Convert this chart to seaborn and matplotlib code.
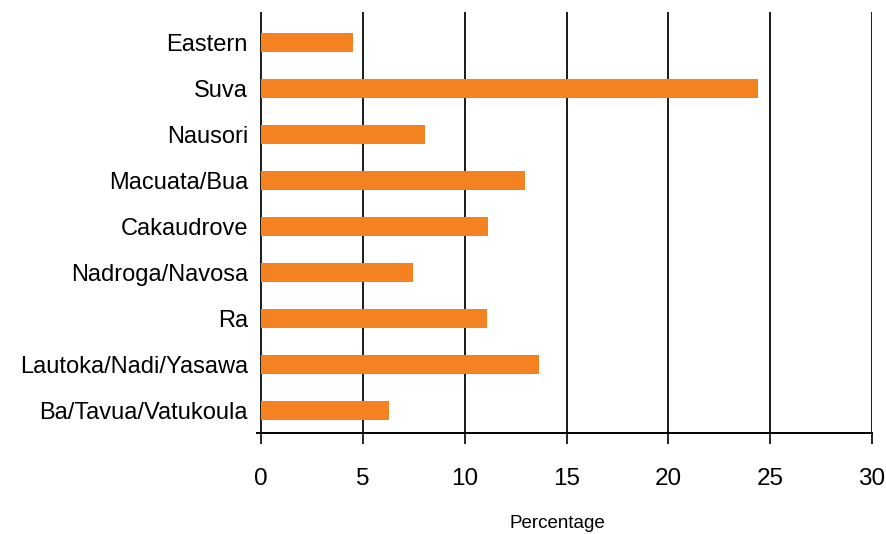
import matplotlib
matplotlib.use("Agg")
import matplotlib.pyplot as plt
import seaborn as sns
import pandas as pd

regions = ["Eastern", "Suva", "Nausori", "Macuata/Bua", "Cakaudrove",
           "Nadroga/Navosa", "Ra", "Lautoka/Nadi/Yasawa", "Ba/Tavua/Vatukoula"]
percentages = [4.5, 24.4, 8.05, 12.95, 11.15, 7.45, 11.1, 13.65, 6.3]
xticks = [0, 5, 10, 15, 20, 25, 30]
xlabel = "Percentage"

df = pd.DataFrame({"region": regions, "pct": percentages})

sns.set_theme(style="white")
plt.rcParams['font.family'] = ['Liberation Sans', 'DejaVu Sans']

fig = plt.figure(figsize=(8.86, 5.34), dpi=100)
ax = fig.add_axes([257/886, 1-433/534, (872-257)/886, (433-12)/534])

for x in xticks:
    ax.axvline(x, color='#1a1a1a', lw=1.4, zorder=0)

sns.barplot(data=df, x="pct", y="region", orient="h", color='#F58220',
            saturation=1, width=0.41, ax=ax, zorder=2, linewidth=0, edgecolor='none')

ax.set_xlim(-0.2, 30.0)
ax.set_ylim(8.49, -0.66)
ax.set_xticks(xticks)
ax.set_xticklabels([str(t) for t in xticks], fontsize=17.5)
ax.tick_params(axis='x', direction='out', length=8, width=1.2, color='#000', pad=17, bottom=True)
ax.tick_params(axis='y', length=0, pad=6.5, labelsize=17)
for lbl in ax.get_yticklabels():
    lbl.set_color('#000')
for lbl in ax.get_xticklabels():
    lbl.set_color('#000')

for s in ['top', 'right', 'left']:
    ax.spines[s].set_visible(False)
ax.spines['bottom'].set_color('#000')
ax.spines['bottom'].set_linewidth(1.4)

ax.set_ylabel("")
ax.set_xlabel(xlabel, fontsize=13.5, color='#000')
ax.xaxis.set_label_coords(0.489, -0.216, transform=ax.transAxes)
ax.xaxis.label.set_va('center')

fig.savefig("out.png", dpi=100)
